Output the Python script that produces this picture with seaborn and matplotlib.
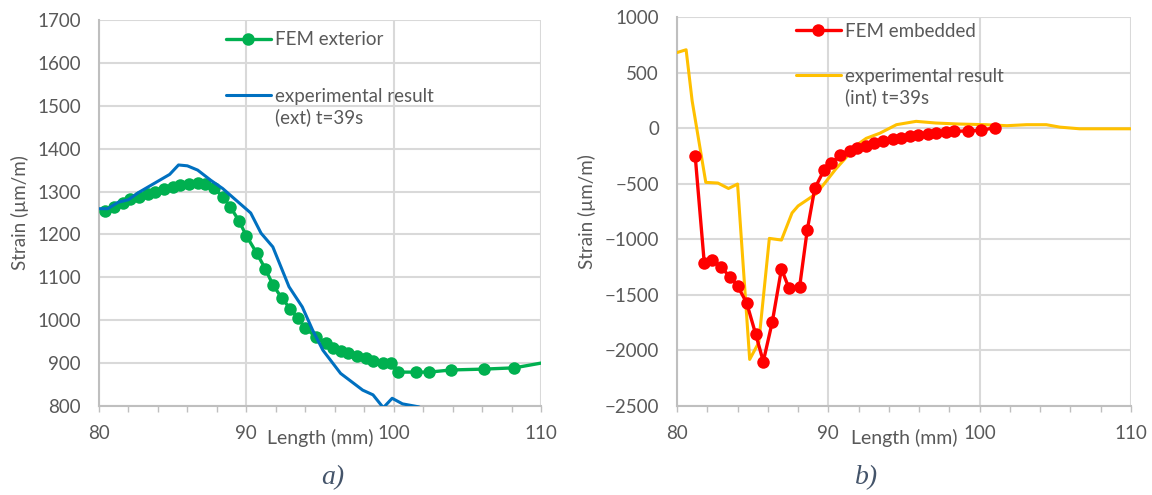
import numpy as np
import pandas as pd
import matplotlib
matplotlib.use("Agg")
import matplotlib.pyplot as plt
import seaborn as sns
from matplotlib.ticker import MultipleLocator

# a) exterior strain
fem_ext_x = [80.4, 81.0, 81.6, 82.1, 82.7, 83.3, 83.8, 84.4, 85.0, 85.5, 86.1, 86.7,
             87.2, 87.8, 88.4, 88.9, 89.5, 90.0, 90.7, 91.3, 91.8, 92.4, 93.0, 93.5,
             94.0, 94.7, 95.4, 95.9, 96.4, 96.9, 97.5, 98.1, 98.6, 99.3, 99.8, 100.3,
             101.5, 102.4, 103.9, 106.1, 108.2, 110.0]
fem_ext_y = [1255, 1264, 1273, 1282, 1288, 1294, 1300, 1305, 1311, 1315, 1318, 1320,
             1318, 1308, 1288, 1265, 1232, 1197, 1157, 1119, 1083, 1052, 1026, 1005,
             982, 962, 947, 935, 929, 924, 917, 912, 906, 900, 900, 879,
             879, 879, 884, 886, 889, 900]
exp_ext_x = [80.0, 80.6, 81.3, 82.0, 82.7, 83.3, 84.1, 84.8, 85.4, 86.0, 86.7, 87.6,
             88.4, 89.3, 90.3, 91.0, 91.8, 92.9, 93.8, 94.5, 95.2, 96.4, 97.9, 98.6,
             99.3, 99.9, 100.6, 101.7, 102.5]
exp_ext_y = [1260, 1260, 1275, 1281, 1298, 1310, 1326, 1340, 1362, 1360, 1350, 1326,
             1307, 1280, 1250, 1203, 1171, 1078, 1031, 977, 930, 876, 837, 826,
             796, 818, 805, 798, 785]

# b) embedded strain
fem_emb_x = [81.2, 81.8, 82.3, 82.9, 83.5, 84.0, 84.6, 85.2, 85.7, 86.3, 86.9, 87.4,
             88.1, 88.6, 89.1, 89.7, 90.2, 90.8, 91.4, 91.9, 92.5, 93.0, 93.6, 94.3,
             94.8, 95.4, 95.9, 96.6, 97.1, 97.8, 98.3, 99.2, 100.1, 101.0]
fem_emb_y = [-250, -1214, -1184, -1251, -1337, -1419, -1572, -1855, -2100, -1740, -1267, -1441,
             -1429, -921, -543, -381, -311, -244, -207, -183, -158, -137, -115, -97,
             -85, -70, -60, -51, -42, -37, -30, -24, -21, 5]
exp_int_x = [80.0, 80.6, 81.0, 81.9, 82.7, 83.4, 84.0, 84.8, 85.4, 86.1, 86.9, 87.6,
             88.0, 89.2, 89.8, 90.5, 91.1, 91.9, 92.5, 93.4, 94.5, 95.8, 97.1, 98.6,
             100.4, 101.8, 103.1, 104.4, 105.3, 106.6, 110.0]
exp_int_y = [680, 705, 244, -488, -494, -543, -503, -2081, -1929, -992, -1007, -763,
             -700, -590, -488, -366, -275, -150, -92, -46, 31, 61, 46, 37,
             31, 22, 31, 31, 9, -6, -6]

labels_a = ["FEM exterior", "experimental result", "(ext) t=39s"]
labels_b = ["FEM embedded", "experimental result", "(int) t=39s"]

grid_col = "#d9d9d9"
spine_col = "#bfbfbf"
text_col = "#595959"

sns.set_theme(style="white")
plt.rcParams["font.family"] = ["Lato", "DejaVu Sans"]

fig = plt.figure(figsize=(11.52, 4.95), dpi=100)
ax1 = fig.add_axes([0.0859, 0.1798, 0.3837, 0.7798])
ax2 = fig.add_axes([0.5877, 0.1798, 0.3941, 0.7859])

df_ext = pd.DataFrame({"x": fem_ext_x, "y": fem_ext_y})
df_exp_ext = pd.DataFrame({"x": exp_ext_x, "y": exp_ext_y})
df_emb = pd.DataFrame({"x": fem_emb_x, "y": fem_emb_y})
df_exp_int = pd.DataFrame({"x": exp_int_x, "y": exp_int_y})

sns.lineplot(data=df_ext, x="x", y="y", ax=ax1, sort=False, color="#00b050",
             lw=2.4, marker="o", markersize=9, markeredgewidth=0,
             markevery=list(range(len(fem_ext_x) - 1)), label=labels_a[0], zorder=3)
sns.lineplot(data=df_exp_ext, x="x", y="y", ax=ax1, sort=False, color="#0070c0",
             lw=2.2, label=labels_a[1], zorder=4)

sns.lineplot(data=df_emb, x="x", y="y", ax=ax2, sort=False, color="#ff0000",
             lw=2.4, marker="o", markersize=9, markeredgewidth=0,
             label=labels_b[0], zorder=4)
sns.lineplot(data=df_exp_int, x="x", y="y", ax=ax2, sort=False, color="#ffc000",
             lw=2.2, label=labels_b[1], zorder=3)

for ax, ylim, ystep in [(ax1, (800, 1700), 100), (ax2, (-2500, 1000), 500)]:
    ax.set_xlim(80, 110)
    ax.set_ylim(*ylim)
    ax.xaxis.set_major_locator(MultipleLocator(10))
    ax.xaxis.set_minor_locator(MultipleLocator(2))
    ax.yaxis.set_major_locator(MultipleLocator(ystep))
    ax.grid(True, which="major", color=grid_col, lw=1.5)
    ax.set_axisbelow(True)
    for s in ["top", "right"]:
        ax.spines[s].set_visible(False)
    for s in ["left", "bottom"]:
        ax.spines[s].set_color(spine_col)
        ax.spines[s].set_linewidth(1.5)
    ax.tick_params(axis="x", which="both", direction="out", length=4, width=1,
                   color=spine_col, pad=10, labelsize=13.5, labelcolor=text_col,
                   bottom=True)
    ax.tick_params(axis="y", length=0, pad=13, labelsize=13.5, labelcolor=text_col)
    ax.set_xlabel("Length (mm)", fontsize=14, color=text_col, labelpad=-10)
    ax.set_ylabel("Strain (µm/m)", fontsize=13.5, color=text_col, labelpad=6)

leg1 = ax1.legend(loc="upper left", bbox_to_anchor=(0.27, 0.99), frameon=False,
                  fontsize=13.5, labelcolor=text_col, handlelength=2.4,
                  handletextpad=0.2, labelspacing=2.1, borderaxespad=0)
leg2 = ax2.legend(loc="upper left", bbox_to_anchor=(0.245, 1.005), frameon=False,
                  fontsize=13.5, labelcolor=text_col, handlelength=2.4,
                  handletextpad=0.2, labelspacing=1.5, borderaxespad=0)

# second line of the experimental labels, placed right under the first line
fig.canvas.draw()
inv = fig.transFigure.inverted()
for leg, extra in [(leg1, labels_a[2]), (leg2, labels_b[2])]:
    bb = leg.get_texts()[1].get_window_extent()
    x0, y0 = inv.transform((bb.x0, bb.y0 - 4))
    fig.text(x0, y0, extra, ha="left", va="top", fontsize=13.5, color=text_col)

fig.text(0.289, 0.035, "a)", ha="center", va="center", fontsize=20,
         style="italic", family="Liberation Serif", color="#44546a")
fig.text(0.752, 0.035, "b)", ha="center", va="center", fontsize=20,
         style="italic", family="Liberation Serif", color="#44546a")

fig.savefig("out.png", dpi=100)
